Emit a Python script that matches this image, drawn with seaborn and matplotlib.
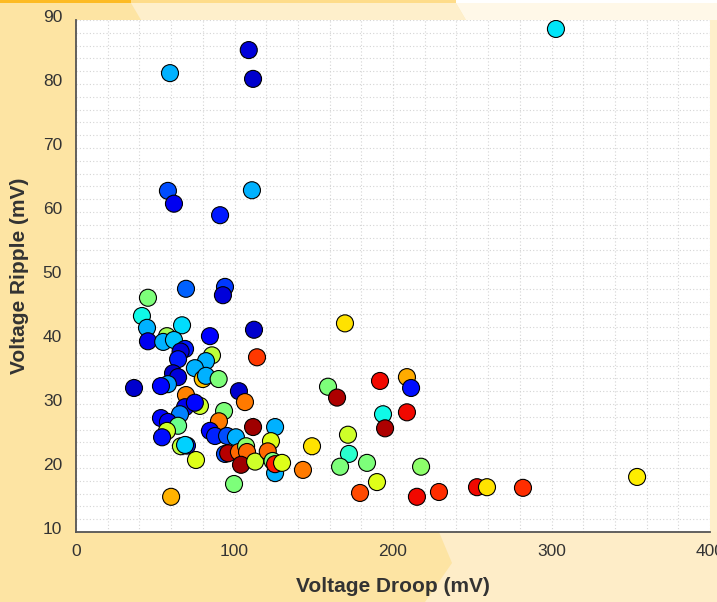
import numpy as np
import pandas as pd
import matplotlib
matplotlib.use("Agg")
import matplotlib.pyplot as plt
import seaborn as sns
from matplotlib.patches import Polygon
from matplotlib.ticker import MultipleLocator
from matplotlib.transforms import ScaledTranslation

# ---- data ----
droop = [302.8, 109.0, 59.3, 111.7, 111.0, 58.0, 61.8, 90.9, 45.4, 69.4,
         94.0, 92.7, 41.6, 44.8, 66.9, 45.4, 112.3, 84.5, 114.2, 57.4,
         55.0, 61.8, 68.8, 66.0, 64.4, 85.8, 82.0, 75.0, 80.0, 82.0,
         90.0, 61.2, 64.4, 36.6, 58.0, 53.6, 102.8, 106.6, 69.4, 78.2,
         68.8, 75.0, 65.6, 93.4, 90.2, 53.6, 58.0, 111.7, 125.6, 64.4,
         57.4, 54.3, 66.2, 70.0, 68.8, 75.7, 60.0, 84.5, 87.7, 95.3,
         100.9, 94.0, 99.7, 96.0, 102.8, 107.3, 107.9, 104.1, 113.0, 123.0,
         121.0, 124.0, 125.6, 125.6, 130.0, 143.2, 148.9, 159.0, 169.7, 164.7,
         191.8, 208.8, 211.4, 193.7, 208.8, 195.0, 171.6, 172.2, 166.6, 183.6,
         189.9, 179.2, 217.7, 215.1, 229.0, 253.0, 259.3, 282.0, 354.0]
ripple = [88.6, 85.3, 81.7, 80.8, 63.4, 63.3, 61.3, 59.5, 46.6, 48.0,
          48.3, 47.0, 43.75, 41.9, 42.3, 39.8, 41.6, 40.6, 37.3, 40.6,
          39.7, 40.0, 38.6, 38.2, 37.0, 37.6, 36.7, 35.6, 33.9, 34.4,
          33.9, 34.8, 34.2, 32.5, 33.1, 32.8, 32.0, 30.3, 31.4, 29.7,
          29.5, 30.2, 28.4, 28.9, 27.3, 27.8, 27.2, 26.4, 26.4, 26.6,
          25.8, 24.8, 23.4, 23.5, 23.6, 21.25, 15.5, 25.8, 25.0, 25.0,
          24.8, 22.2, 17.5, 22.3, 22.5, 23.4, 22.5, 20.5, 21.0, 24.2,
          22.6, 21.1, 19.2, 20.6, 20.8, 19.7, 23.4, 32.7, 42.6, 31.0,
          33.6, 34.2, 32.5, 28.4, 28.7, 26.2, 25.2, 22.2, 20.2, 20.8,
          17.8, 16.1, 20.2, 15.5, 16.25, 17.0, 17.0, 16.9, 18.6]
colour_val = [0.35, 0.08, 0.30, 0.07, 0.30, 0.20, 0.10, 0.15, 0.50, 0.22,
              0.18, 0.08, 0.37, 0.30, 0.34, 0.10, 0.07, 0.12, 0.85, 0.55,
              0.30, 0.32, 0.15, 0.08, 0.15, 0.58, 0.30, 0.30, 0.70, 0.30,
              0.50, 0.07, 0.08, 0.07, 0.28, 0.13, 0.07, 0.78, 0.77, 0.60,
              0.10, 0.13, 0.25, 0.50, 0.78, 0.13, 0.10, 0.97, 0.30, 0.48,
              0.60, 0.14, 0.58, 0.15, 0.33, 0.62, 0.72, 0.13, 0.16, 0.20,
              0.30, 0.20, 0.50, 0.95, 0.80, 0.52, 0.80, 0.97, 0.60, 0.62,
              0.80, 0.50, 0.30, 0.88, 0.62, 0.78, 0.67, 0.50, 0.67, 0.96,
              0.90, 0.73, 0.14, 0.37, 0.90, 0.96, 0.60, 0.40, 0.50, 0.50,
              0.62, 0.83, 0.52, 0.90, 0.86, 0.90, 0.67, 0.86, 0.66]

x_ticks = [0, 100, 200, 300, 400]
y_ticks = [10, 20, 30, 40, 50, 60, 70, 80, 90]
x_label = "Voltage Droop (mV)"
y_label = "Voltage Ripple (mV)"

df = pd.DataFrame({"droop": droop, "ripple": ripple, "c": colour_val})

sns.set_style("white")
plt.rcParams["font.family"] = ["Liberation Sans", "DejaVu Sans"]

W, H = 717, 602
fig = plt.figure(figsize=(W / 100, H / 100), dpi=100)
fig.patch.set_facecolor("#FDE4A3")

def px(points):
    return [(x / W, 1 - y / H) for x, y in points]

# decorative background shapes
base_light = "#FEEFCB"
very_light = "#FFF8E8"
fig.patches.append(Polygon(px([(131, 3), (456, 3), (466, 20), (141, 20)]),
                           closed=True, transform=fig.transFigure,
                           facecolor=base_light, edgecolor="none", zorder=-5))
fig.patches.append(Polygon(px([(456, 3), (717, 3), (717, 20), (466, 20)]),
                           closed=True, transform=fig.transFigure,
                           facecolor=very_light, edgecolor="none", zorder=-5))
fig.patches.append(Polygon(px([(0, 0), (131, 0), (131, 3), (0, 3)]),
                           closed=True, transform=fig.transFigure,
                           facecolor="#FDBB24", edgecolor="none", zorder=-4))
fig.patches.append(Polygon(px([(131, 0), (456, 0), (456, 3), (131, 3)]),
                           closed=True, transform=fig.transFigure,
                           facecolor="#FEDC8A", edgecolor="none", zorder=-4))
fig.patches.append(Polygon(px([(456, 0), (717, 0), (717, 3), (456, 3)]),
                           closed=True, transform=fig.transFigure,
                           facecolor="#FFFFFF", edgecolor="none", zorder=-4))
fig.patches.append(Polygon(px([(439, 532), (717, 532), (717, 602), (425, 602),
                               (452, 563)]),
                           closed=True, transform=fig.transFigure,
                           facecolor="#FEEDC8", edgecolor="none", zorder=-5))
fig.patches.append(Polygon(px([(708, 20), (717, 20), (717, 532), (708, 532)]),
                           closed=True, transform=fig.transFigure,
                           facecolor="#FEEFCB", edgecolor="none", zorder=-5))

ax = fig.add_axes([76 / W, 1 - 532 / H, (710 - 76) / W, (532 - 20) / H])
ax.set_facecolor("white")

sns.scatterplot(data=df, x="droop", y="ripple", hue="c",
                palette=matplotlib.colormaps["jet"],
                hue_norm=(0, 1), s=150, edgecolor="black", linewidth=0.8,
                alpha=1, legend=False, ax=ax, zorder=3)

ax.set_xlim(0, 400)
ax.set_ylim(10, 90)
ax.set_xticks(x_ticks)
ax.set_yticks(y_ticks)
ax.xaxis.set_minor_locator(MultipleLocator(20))
ax.yaxis.set_minor_locator(MultipleLocator(2))
ax.grid(True, which="both", color="#d4d4d4", linestyle=(0, (1, 2)), linewidth=0.8)
ax.set_axisbelow(True)

for s in ["top", "right"]:
    ax.spines[s].set_visible(False)
for s in ["left", "bottom"]:
    ax.spines[s].set_color("#555555")
    ax.spines[s].set_linewidth(1.3)

ax.tick_params(axis="both", which="major", direction="in", length=6,
               width=1.3, color="#555555", labelsize=12.5, labelcolor="#333333")
ax.tick_params(axis="both", which="minor", length=0)
ax.tick_params(axis="y", pad=10)
ax.tick_params(axis="x", pad=9)

for lab in ax.get_yticklabels():
    lab.set_transform(lab.get_transform() +
                      ScaledTranslation(0, 3 / 72, fig.dpi_scale_trans))

ax.set_xlabel(x_label, fontsize=15, fontweight="bold", color="#333333")
ax.set_ylabel(y_label, fontsize=15, fontweight="bold", color="#333333")
ax.xaxis.set_label_coords(0.5, -(577 - 532) / 512)
ax.yaxis.set_label_coords(-(76 - 29) / 634, 0.5)

fig.savefig("out.png", dpi=100, facecolor=fig.get_facecolor())
